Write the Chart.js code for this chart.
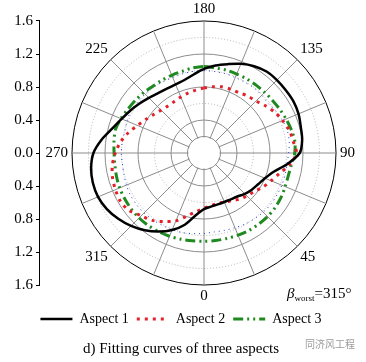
<!DOCTYPE html>
<html>
<head>
<meta charset="utf-8">
<script src="https://cdn.jsdelivr.net/npm/chart.js@4.4.1/dist/chart.umd.min.js"></script>
<style>
html,body{margin:0;padding:0;background:#fff;}
#wrap{position:relative;width:366px;height:362px;}
#beta{position:absolute;left:287px;top:286px;font:15px 'Liberation Serif',serif;line-height:15px;color:#000;white-space:nowrap;}
#beta sub{font-size:9px;vertical-align:-3px;}
#wm{position:absolute;left:305px;top:336px;font:10px 'Noto Sans CJK SC',sans-serif;color:#9a9a9a;white-space:nowrap;}
</style>
</head>
<body>
<div id="wrap">
<canvas id="c" width="366" height="362"></canvas>
<div id="beta"><i>β</i><sub>worst</sub>=315°</div>
<div id="wm">同济风工程</div>
</div>
<script>
// Angle categories (degrees, as labelled on the polar plot)
const angles = [0,7.5,15,22.5,30,37.5,45,52.5,60,67.5,75,82.5,
  90,97.5,105,112.5,120,127.5,135,142.5,150,157.5,165,172.5,
  180,187.5,195,202.5,210,217.5,225,232.5,240,247.5,255,262.5,
  270,277.5,285,292.5,300,307.5,315,322.5,330,337.5,345,352.5];

// Series values (radius) at each angle above
const aspect1 = [0.68,0.655,0.645,0.643,0.648,0.665,0.70,0.73,0.758,0.80,0.875,1.02,
  1.16,1.20,1.215,1.24,1.252,1.25,1.25,1.245,1.215,1.17,1.115,1.07,
  1.02,0.96,0.916,0.90,0.90,0.915,0.945,0.985,1.03,1.08,1.15,1.25,
  1.34,1.38,1.395,1.39,1.36,1.31,1.25,1.18,1.10,1.01,0.90,0.76];
const aspect2 = [0.67,0.645,0.631,0.645,0.668,0.705,0.735,0.768,0.825,0.88,0.95,1.05,
  1.12,1.09,1.07,1.03,0.99,0.94,0.89,0.87,0.845,0.838,0.83,0.81,
  0.787,0.768,0.752,0.735,0.72,0.718,0.735,0.768,0.815,0.872,0.95,1.02,
  1.075,1.12,1.148,1.162,1.17,1.145,1.075,1.03,0.96,0.89,0.79,0.715];
const aspect3 = [1.07,1.07,1.072,1.078,1.085,1.088,1.09,1.087,1.078,1.065,1.058,1.07,
  1.10,1.11,1.095,1.077,1.06,1.047,1.04,1.037,1.036,1.036,1.04,1.04,
  1.05,1.04,1.025,1.02,1.02,1.02,1.035,1.048,1.065,1.09,1.11,1.10,
  1.09,1.09,1.098,1.106,1.11,1.113,1.113,1.108,1.10,1.092,1.082,1.072];
const blueCurve = [0.975,0.965,0.97,0.98,0.995,1.005,1.015,1.02,1.02,1.02,1.018,1.016,
  1.025,1.043,1.045,1.03,1.01,0.982,0.99,0.995,0.99,0.99,0.995,0.995,
  0.998,0.998,0.993,0.99,0.995,1.008,1.01,1.015,1.022,1.01,0.995,1.0,
  1.003,0.998,1.005,1.018,1.028,1.03,1.028,1.02,1.013,1.007,1.0,0.985];

// Tick labels of the left radial-value axis
const axisTicks = [-1.6,-1.2,-0.8,-0.4,0,0.4,0.8,1.2,1.6];
const rMax = 1.6;

// Radar draws clockwise from the top; the plot has 180 at top, 90 at right
const order = angles.map((_, k) => angles.indexOf((180 - 7.5 * k + 360) % 360));
const radarLabels = order.map(i => angles[i]);
const reorder = arr => order.map(i => arr[i]);

// left axis spans the same value range as the polar radius (chart area half-height 151px vs radius 132px)
const yLimit = rMax * 151 / 132;

Chart.defaults.font.family = "'Liberation Serif', 'Times New Roman', serif";
Chart.defaults.color = '#000';

const decor = {
  id: 'decor',
  beforeDatasetsDraw(chart) {
    const r = chart.scales.r, ctx = chart.ctx;
    ctx.save();
    ctx.fillStyle = '#fff';
    ctx.beginPath();
    ctx.arc(r.xCenter, r.yCenter, r.getDistanceFromCenterForValue(0.2) - 1, 0, Math.PI * 2);
    ctx.fill();
    ctx.restore();
  },
  afterDraw(chart) {
    const y = chart.scales.y, ctx = chart.ctx;
    ctx.save();
    ctx.strokeStyle = '#000';
    ctx.lineWidth = 1;
    ctx.beginPath();
    const x = Math.round(y.right) - 0.5;
    ctx.moveTo(x, y.getPixelForValue(rMax));
    ctx.lineTo(x, y.getPixelForValue(-rMax));
    ctx.stroke();
    ctx.restore();
  }
};

new Chart(document.getElementById('c'), {
  type: 'radar',
  data: {
    labels: radarLabels,
    datasets: [
      { label: 'Aspect 1', data: reorder(aspect1), borderColor: '#000000', borderWidth: 2.5, borderDash: [], fill: false, pointRadius: 0, tension: 0.3 },
      { label: 'Aspect 2', data: reorder(aspect2), borderColor: '#e3202a', borderWidth: 3, borderDash: [3, 5], fill: false, pointRadius: 0, tension: 0.3 },
      { label: 'Aspect 3', data: reorder(aspect3), borderColor: '#1f8a1f', borderWidth: 3, borderDash: [10, 4, 2, 4, 2, 4], fill: false, pointRadius: 0, tension: 0.3 },
      { label: '', data: reorder(blueCurve), borderColor: '#2a3fd6', borderWidth: 1, borderDash: [1, 4], fill: false, pointRadius: 0, tension: 0.3 }
    ]
  },
  options: {
    responsive: false,
    animation: false,
    devicePixelRatio: 1,
    layout: { padding: { top: 2, right: 4, bottom: 0, left: 0 } },
    plugins: {
      tooltip: { enabled: false },
      legend: {
        position: 'bottom',
        labels: {
          usePointStyle: true,
          pointStyleWidth: 32,
          padding: 8,
          color: '#000',
          font: { size: 14 },
          generateLabels: (chart) => chart.data.datasets.map((ds, i) => ({
            text: ds.label,
            strokeStyle: ds.borderColor,
            fillStyle: ds.borderColor,
            lineWidth: ds.borderWidth,
            lineDash: ds.borderDash,
            pointStyle: 'line',
            hidden: false,
            datasetIndex: i
          })).filter(it => it.text)
        }
      },
      title: {
        display: true,
        position: 'bottom',
        text: 'd) Fitting curves of three aspects',
        color: '#000',
        font: { size: 15, weight: 'normal', lineHeight: 1.2 },
        padding: { top: 4, bottom: 4 }
      }
    },
    scales: {
      r: {
        min: 0,
        max: rMax,
        ticks: { stepSize: 0.2, display: false },
        grid: {
          circular: true,
          lineWidth: 1,
          color: (ctx) => {
            const v = Math.round(ctx.tick.value * 10);
            if (v === 16) return '#000000';
            if (v === 6 || v === 10 || v === 14) return '#b0b0b0';
            return '#8c8c8c';
          },
          borderDash: (ctx) => {
            const v = Math.round(ctx.tick.value * 10);
            return (v === 6 || v === 10 || v === 14) ? [1, 2] : [];
          }
        },
        border: {
          dash: (ctx) => {
            const v = Math.round(ctx.tick.value * 10);
            return (v === 6 || v === 10 || v === 14) ? [1, 2] : [];
          }
        },
        angleLines: {
          display: true,
          lineWidth: 1,
          color: (ctx) => (radarLabels[ctx.index] % 22.5 === 0 ? '#8c8c8c' : 'rgba(0,0,0,0)')
        },
        pointLabels: {
          display: true,
          padding: 4,
          color: '#000',
          font: { size: 15, lineHeight: 1 },
          callback: (label) => (label % 45 === 0 ? String(label) : '')
        }
      },
      y: {
        type: 'linear',
        position: 'left',
        min: -yLimit,
        max: yLimit,
        afterBuildTicks: (s) => { s.ticks = axisTicks.map(v => ({ value: v })); },
        afterFit: (s) => { s.width = 40; s.paddingTop = 0; s.paddingBottom = 0; },
        ticks: {
          autoSkip: false,
          padding: 3,
          color: '#000',
          font: { size: 15, lineHeight: 1 },
          callback: (v) => Math.abs(v).toFixed(1)
        },
        grid: { drawOnChartArea: false, drawTicks: true, tickLength: 4, color: '#000' },
        border: { display: false }
      }
    }
  },
  plugins: [decor]
});
</script>
</body>
</html>
